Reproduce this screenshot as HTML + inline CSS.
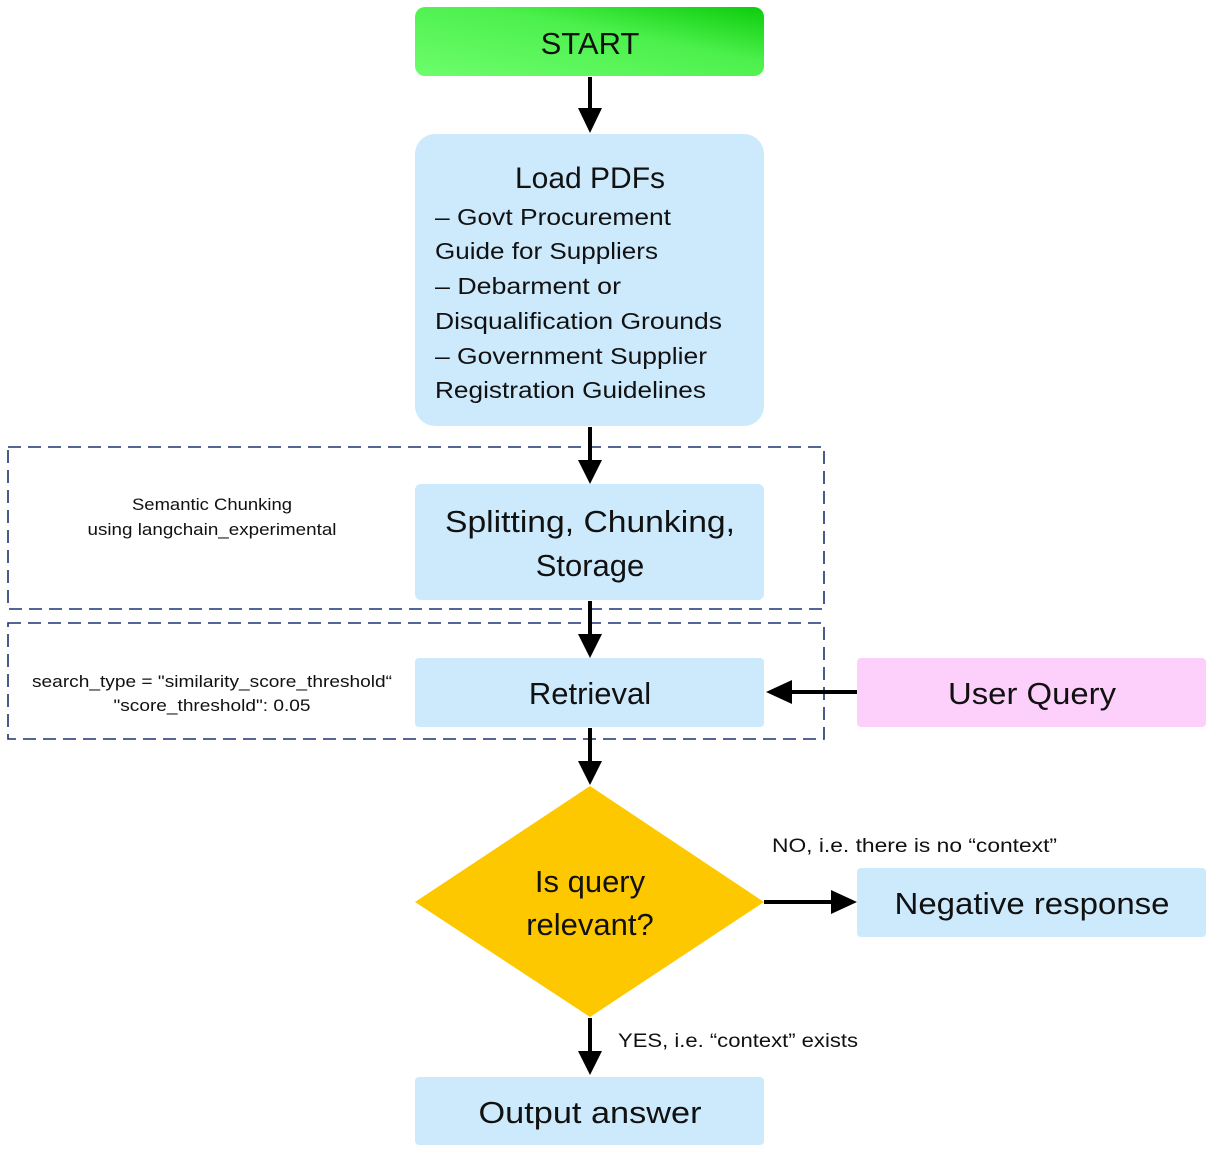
<!DOCTYPE html>
<html><head><meta charset="utf-8"><style>
html,body{margin:0;padding:0;background:#fff;}
svg{display:block;}
text{font-family:"Liberation Sans",sans-serif;fill:#111;}
</style></head><body>
<svg width="1215" height="1163" viewBox="0 0 1215 1163" xmlns="http://www.w3.org/2000/svg">
<defs>
<linearGradient id="g" x1="0" y1="1" x2="1" y2="0">
<stop offset="0" stop-color="#6dfd6d"/><stop offset="0.6" stop-color="#4cf04c"/><stop offset="1" stop-color="#0ccc0c"/>
</linearGradient>
</defs>
<rect x="8" y="447" width="816" height="162" fill="none" stroke="#1a3470" stroke-width="1.6" stroke-dasharray="13,7"/>
<rect x="8" y="623" width="816" height="116" fill="none" stroke="#1a3470" stroke-width="1.6" stroke-dasharray="13,7"/>
<rect x="415" y="7" width="349" height="69" rx="10" fill="url(#g)"/>
<text x="590" y="54" font-size="31" text-anchor="middle">START</text>
<rect x="415" y="134" width="349" height="292" rx="20" fill="#cdeafc"/>
<text x="590" y="188" font-size="30" text-anchor="middle">Load PDFs</text>
<g font-size="23.5" lengthAdjust="spacingAndGlyphs">
<text x="435" y="225" textLength="236" lengthAdjust="spacingAndGlyphs">– Govt Procurement</text>
<text x="435" y="259" textLength="223" lengthAdjust="spacingAndGlyphs">Guide for Suppliers</text>
<text x="435" y="294" textLength="186" lengthAdjust="spacingAndGlyphs">– Debarment or</text>
<text x="435" y="329" textLength="287" lengthAdjust="spacingAndGlyphs">Disqualification Grounds</text>
<text x="435" y="364" textLength="272" lengthAdjust="spacingAndGlyphs">– Government Supplier</text>
<text x="435" y="398" textLength="271" lengthAdjust="spacingAndGlyphs">Registration Guidelines</text>
</g>
<rect x="415" y="484" width="349" height="116" rx="6" fill="#cdeafc"/>
<text x="590" y="532" font-size="31" text-anchor="middle" textLength="290" lengthAdjust="spacingAndGlyphs">Splitting, Chunking,</text>
<text x="590" y="576" font-size="31" text-anchor="middle">Storage</text>
<text x="212" y="510" font-size="17" text-anchor="middle" textLength="160" lengthAdjust="spacingAndGlyphs">Semantic Chunking</text>
<text x="212" y="535" font-size="17" text-anchor="middle" textLength="249" lengthAdjust="spacingAndGlyphs">using langchain_experimental</text>
<rect x="415" y="658" width="349" height="69" rx="4" fill="#cdeafc"/>
<text x="590" y="704" font-size="31" text-anchor="middle">Retrieval</text>
<text x="212" y="687" font-size="17" text-anchor="middle" textLength="360" lengthAdjust="spacingAndGlyphs">search_type = "similarity_score_threshold“</text>
<text x="212" y="711" font-size="17" text-anchor="middle" textLength="197" lengthAdjust="spacingAndGlyphs">"score_threshold": 0.05</text>
<rect x="857" y="658" width="349" height="69" rx="4" fill="#fdd0fc"/>
<text x="1032" y="704" font-size="31" text-anchor="middle" textLength="168" lengthAdjust="spacingAndGlyphs">User Query</text>
<polygon points="590,786 764,902 590,1017 415,902" fill="#fec800"/>
<text x="590" y="892" font-size="31" text-anchor="middle">Is query</text>
<text x="590" y="935" font-size="31" text-anchor="middle">relevant?</text>
<rect x="857" y="868" width="349" height="69" rx="4" fill="#cdeafc"/>
<text x="1032" y="914" font-size="31" text-anchor="middle" textLength="275" lengthAdjust="spacingAndGlyphs">Negative response</text>
<text x="772" y="852" font-size="19" textLength="285" lengthAdjust="spacingAndGlyphs">NO, i.e. there is no “context”</text>
<rect x="415" y="1077" width="349" height="68" rx="4" fill="#cdeafc"/>
<text x="590" y="1123" font-size="31" text-anchor="middle" textLength="223" lengthAdjust="spacingAndGlyphs">Output answer</text>
<text x="618" y="1047" font-size="19" textLength="240" lengthAdjust="spacingAndGlyphs">YES, i.e. “context” exists</text>
<g stroke="#000" stroke-width="4">
<line x1="590" y1="77" x2="590" y2="110"/>
<line x1="590" y1="427" x2="590" y2="462"/>
<line x1="590" y1="601" x2="590" y2="636"/>
<line x1="590" y1="728" x2="590" y2="763"/>
<line x1="590" y1="1018" x2="590" y2="1053"/>
<line x1="857" y1="692" x2="790" y2="692"/>
<line x1="764" y1="902" x2="833" y2="902"/>
</g>
<g fill="#000">
<polygon points="578,108 602,108 590,133"/>
<polygon points="578,460 602,460 590,484"/>
<polygon points="578,634 602,634 590,658"/>
<polygon points="578,761 602,761 590,785"/>
<polygon points="578,1051 602,1051 590,1075"/>
<polygon points="792,680 792,704 766,692"/>
<polygon points="831,890 831,914 857,902"/>
</g>
</svg>
</body></html>
